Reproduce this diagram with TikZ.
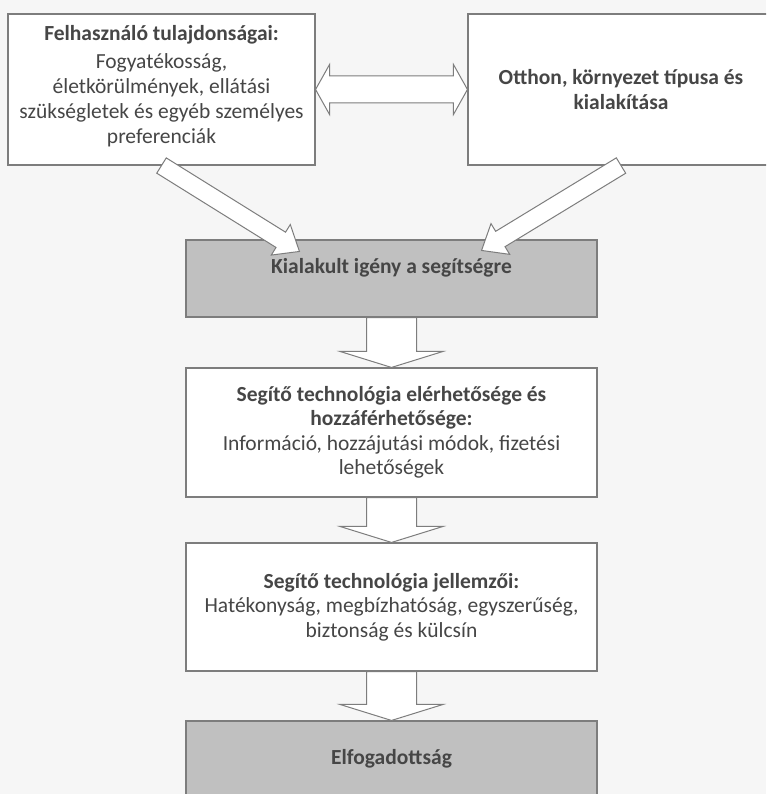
\documentclass[tikz,border=0pt]{standalone}
\usepackage{fontspec}
\setmainfont{Carlito}
\usepackage{xcolor}
\usepackage{tikz}
\usetikzlibrary{calc}

\definecolor{paper}{RGB}{246,246,246}
\definecolor{ink}{RGB}{70,70,70}
\definecolor{frame}{RGB}{125,125,125}
\definecolor{shade}{RGB}{192,192,192}

\tikzset{
  box/.style={draw=frame, line width=1.1pt, fill=white, align=center, text=ink,
    font=\fontsize{21.5}{24.5}\selectfont, minimum width=411pt, inner sep=4pt},
  greybox/.style={box, fill=shade},
  blockline/.style={draw=frame, fill=white, line width=1pt, line join=miter}
}

% hollow block arrow: from, to, shaft half width, head half width, head length
\newcommand\blockarrow[5]{%
  \draw[blockline] let \p1=($(#2)-(#1)$), \n1={atan2(\y1,\x1)}, \n2={veclen(\x1,\y1)-#5} in
    ($(#1)+(\n1+90:#3)$) -- ($(#1)+(\n1:\n2)+(\n1+90:#3)$) -- ($(#1)+(\n1:\n2)+(\n1+90:#4)$)
    -- (#2) -- ($(#1)+(\n1:\n2)+(\n1-90:#4)$) -- ($(#1)+(\n1:\n2)+(\n1-90:#3)$)
    -- ($(#1)+(\n1-90:#3)$) -- cycle;}

% same, with a head at both ends
\newcommand\twowayarrow[5]{%
  \draw[blockline] let \p1=($(#2)-(#1)$), \n1={atan2(\y1,\x1)}, \n2={veclen(\x1,\y1)-#5} in
    (#1) -- ($(#1)+(\n1:#5)+(\n1+90:#4)$) -- ($(#1)+(\n1:#5)+(\n1+90:#3)$)
    -- ($(#1)+(\n1:\n2)+(\n1+90:#3)$) -- ($(#1)+(\n1:\n2)+(\n1+90:#4)$)
    -- (#2) -- ($(#1)+(\n1:\n2)+(\n1-90:#4)$) -- ($(#1)+(\n1:\n2)+(\n1-90:#3)$)
    -- ($(#1)+(\n1:#5)+(\n1-90:#3)$) -- ($(#1)+(\n1:#5)+(\n1-90:#4)$) -- cycle;}

\begin{document}
\begin{tikzpicture}[x=1pt, y=1pt]
  \useasboundingbox (0,0) rectangle (766,794);
  \fill[paper] (0,0) rectangle (766,794);
  \clip (0,0) rectangle (766,794);

  % --- top row ---
  \node[box, minimum width=307pt, minimum height=151pt, text depth=10pt,
        font=\fontsize{21.5}{25}\selectfont] (user) at (161.5,704.5)
    {\textbf{Felhasználó tulajdonságai:}\\[3pt] Fogyatékosság,\\ életkörülmények, ellátási\\
     szükségletek és egyéb személyes\\ preferenciák};
  \node[box, minimum width=306pt, minimum height=151pt] (home) at (621,704.5)
    {\textbf{Otthon, környezet típusa és}\\ \textbf{kialakítása}};

  % --- chain ---
  \node[greybox, minimum height=77pt, text depth=25pt] (need) at (391.5,515.5)
    {\textbf{Kialakult igény a segítségre}};
  \node[box, minimum height=129pt] (access) at (391.5,361.5)
    {\textbf{Segítő technológia elérhetősége és}\\ \textbf{hozzáférhetősége:}\\
     Információ, hozzájutási módok, fizetési\\ lehetőségek};
  \node[box, minimum height=128pt] (traits) at (391.5,187)
    {\textbf{Segítő technológia jellemzői:}\\ Hatékonyság, megbízhatóság, egyszerűség,\\
     biztonság és külcsín};
  \node[greybox, minimum height=76pt] (accept) at (391.5,35)
    {\textbf{Elfogadottság}};

  % --- arrows ---
  \coordinate (needL) at ($(need.north west)+(114,-12)$);
  \coordinate (needR) at ($(need.north east)+(-116,-11)$);
  \twowayarrow{user.east}{home.west}{13.5pt}{25pt}{14pt}
  \blockarrow{user.south}{needL}{9pt}{18pt}{22pt}
  \blockarrow{home.south}{needR}{9pt}{18pt}{22pt}
  \blockarrow{need.south}{access.north}{25pt}{51.5pt}{16pt}
  \blockarrow{access.south}{traits.north}{25pt}{51.5pt}{16pt}
  \blockarrow{traits.south}{accept.north}{25pt}{51.5pt}{16pt}
\end{tikzpicture}
\end{document}
